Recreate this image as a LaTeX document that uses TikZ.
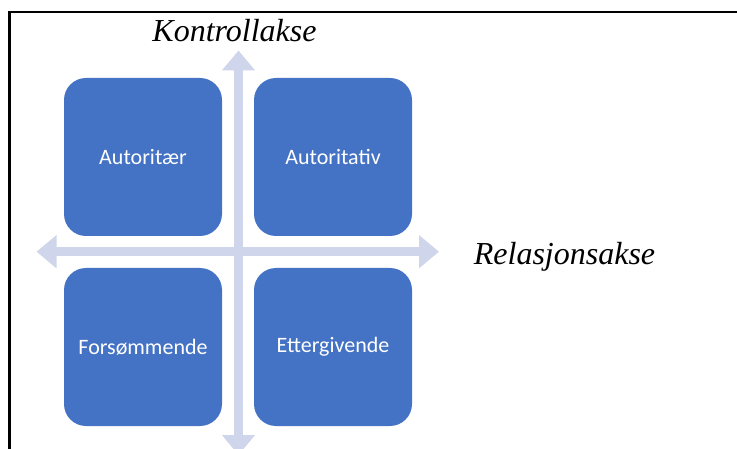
\documentclass[tikz,border=0pt]{standalone}
\usepackage{fontspec}
\setmainfont{Liberation Serif}
\newfontfamily\boxfont{Carlito}
\usetikzlibrary{arrows.meta}

\definecolor{boxblue}{HTML}{4472C4}
\definecolor{axisgrey}{HTML}{CFD5EA}

\begin{document}
\begin{tikzpicture}[x=1pt,y=-1pt,
    quadrant/.style={fill=boxblue, draw=none, rounded corners=22pt,
        minimum width=158pt, minimum height=158pt, text=white,
        font=\boxfont\fontsize{22}{26}\selectfont, inner sep=0pt},
    axis/.style={draw=axisgrey, line width=8.5pt,
        {Triangle[width=32pt,length=20pt]}-{Triangle[width=32pt,length=20pt]}},
    axislabel/.style={font=\itshape\fontsize{32}{36}\selectfont, inner sep=0pt, anchor=base}]
    \useasboundingbox (0,0) rectangle (737,449);
    \begin{scope}
        \clip (0,0) rectangle (737,449);

        % Frame
        \draw[line width=2.5pt] (9.7,449) -- (9.7,12) -- (737,12);

        % Axes
        \coordinate (west) at (36.5,251.7);
        \coordinate (east) at (439,251.7);
        \coordinate (north) at (238.5,50.5);
        \coordinate (south) at (238.5,455);
        \draw[axis] (west) -- (east);
        \draw[axis] (south) -- (north);

        % Quadrants
        \node[quadrant] (autoritaer) at (143,157) {Autoritær};
        \node[quadrant] (autoritativ) at (333,157) {Autoritativ};
        \node[quadrant] (forsommende) at (143,347) {Forsømmende};
        \node[quadrant] (ettergivende) at (333,347) {Ettergivende};

        % Labels
        \node[axislabel] (kontroll) at (234.5,41.7) {Kontrollakse};
        \node[axislabel] (relasjon) at (564.5,264.3) {Relasjonsakse};
    \end{scope}
\end{tikzpicture}
\end{document}
